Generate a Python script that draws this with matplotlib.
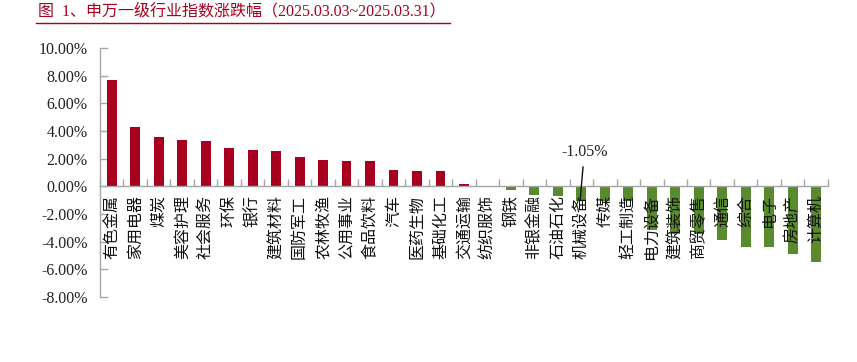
import matplotlib.pyplot as plt
from matplotlib.lines import Line2D

industries = ["有色金属", "家用电器", "煤炭", "美容护理", "社会服务", "环保", "银行",
              "建筑材料", "国防军工", "农林牧渔", "公用事业", "食品饮料", "汽车",
              "医药生物", "基础化工", "交通运输", "纺织服饰", "钢铁", "非银金融",
              "石油石化", "机械设备", "传媒", "轻工制造", "电力设备", "建筑装饰",
              "商贸零售", "通信", "综合", "电子", "房地产", "计算机"]
changes = [7.73, 4.26, 3.59, 3.37, 3.28, 2.79, 2.63, 2.58, 2.14, 1.93, 1.83, 1.83,
           1.16, 1.11, 1.11, 0.17, 0.0, -0.24, -0.65, -0.72, -1.05, -1.04, -1.06,
           -3.15, -3.46, -3.48, -3.87, -4.38, -4.40, -4.86, -5.46]
yticks = [-8, -6, -4, -2, 0, 2, 4, 6, 8, 10]
highlight = "机械设备"

red = "#A8001E"
green = "#5A8A2E"
axis_gray = "#A6A6A6"

fig = plt.figure(figsize=(8.57, 3.62), dpi=100)
ax = fig.add_axes([0.1167, 0.1796, 0.966 - 0.1167, 0.867 - 0.1796])

x = list(range(len(industries)))
colors = [red if v > 0 else green for v in changes]
ax.bar(x, changes, width=0.42, color=colors, zorder=2)

ax.set_xlim(-0.5, len(industries) - 0.5)
ax.set_ylim(-8, 10)
ax.set_yticks(yticks)
ax.set_yticklabels([f"{v:.2f}%" for v in yticks], family="Liberation Serif",
                   fontsize=11.5, color="#222222")
ax.tick_params(axis="y", direction="in", length=6, width=1, color=axis_gray, pad=9)

# category ticks sit between the bars, on the zero line
ax.set_xticks([i - 0.5 for i in range(len(industries) + 1)])
ax.set_xticklabels([])
ax.tick_params(axis="x", direction="in", length=5, width=1, color=axis_gray)

ax.spines["bottom"].set_position(("data", 0))
for s in ["top", "right"]:
    ax.spines[s].set_visible(False)
for s in ["left", "bottom"]:
    ax.spines[s].set_color(axis_gray)
    ax.spines[s].set_linewidth(1)

for i, name in enumerate(industries):
    ax.text(i, -0.65, name, rotation=90, ha="center", va="top", fontsize=11.5,
            family=["Noto Sans CJK SC", "DejaVu Sans"], color="#111111", zorder=3)

k = industries.index(highlight)
ax.annotate(f"{changes[k]:.2f}%", xy=(k - 0.05, changes[k] + 0.1),
            xytext=(k + 0.13, 2.5), ha="center", va="center",
            family="Liberation Serif", fontsize=11.5, color="#222222",
            arrowprops=dict(arrowstyle="-", color="#111111", lw=1, shrinkA=3, shrinkB=0),
            zorder=4)

fig.text(38 / 857, 1 - 11 / 362, "图  1、申万一级行业指数涨跌幅（2025.03.03~2025.03.31）",
         ha="left", va="center", fontsize=11.5, color=red,
         family=["Liberation Serif", "Noto Sans CJK SC", "DejaVu Sans"])
fig.add_artist(Line2D([36 / 857, 450 / 857], [1 - 22.5 / 362, 1 - 22.5 / 362],
                      transform=fig.transFigure, color=red, lw=1))

fig.savefig("out.png", dpi=100)
